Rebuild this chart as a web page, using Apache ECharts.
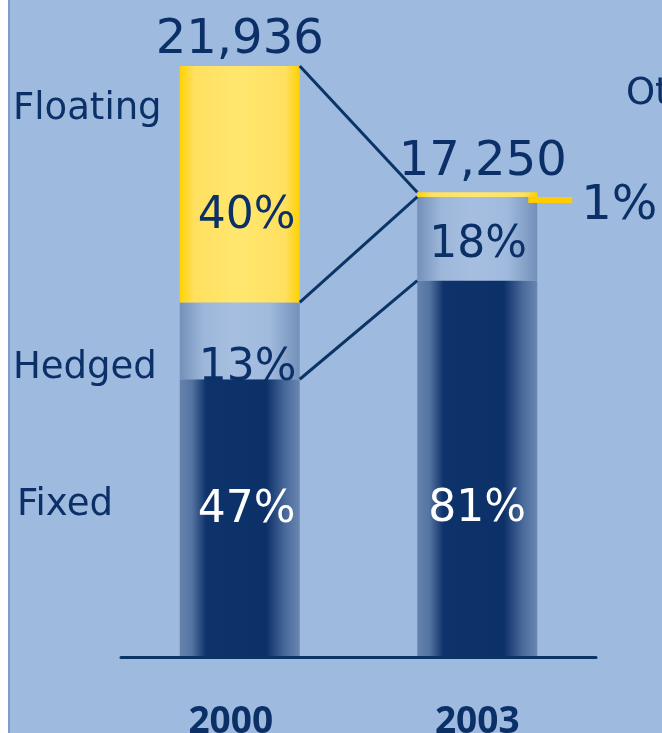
<!DOCTYPE html>
<html><head><meta charset="utf-8">
<script src="https://cdn.jsdelivr.net/npm/echarts@6/dist/echarts.min.js"></script>
<style>html,body{margin:0;padding:0;background:#fff}#c{width:662px;height:733px}</style>
</head><body><div id="c"></div>
<script>
// ---- data ----
const categories = ['2000', '2003'];
const totals = [21936, 17250];
const fixedPct = [47, 81];
const hedgedPct = [13, 18];
const floatingPct = [40, 1];
const segmentNames = ['Fixed', 'Hedged', 'Floating', 'Other'];

// ---- styles / layout ----
const NAVY = '#0b3068';
const FONT = "'DejaVu Sans', Verdana, sans-serif";
const AXIS_FONT = "'Open Sans', Lato, sans-serif";
const BAR_W = 120;
const fixedLabelOffsets = [[7, -7.5], [0, 41]];
const hedgedLabelOffsets = [[8, 28], [1, 7]];
const floatingLabelOffsets = [[7, 32], [142, 12]];
const floatingLabelSizes = [44, 48];
const totalLabelOffsets = [[0, -25.5], [5.5, -30]];

function grad(stops) {
  return new echarts.graphic.LinearGradient(0, 0, 1, 0, stops.map(c => ({offset: c[0], color: c[1]})));
}
const fixedFill = grad([[0, '#6683ae'], [0.1, '#5574a2'], [0.22, '#0e326a'], [0.72, '#0c3068'], [0.88, '#4a6a9b'], [1, '#6986b0']]);
const hedgedFill = grad([[0, '#7590b9'], [0.2, '#9db7da'], [0.45, '#a6bfe1'], [0.75, '#a0badd'], [1, '#7390ba']]);
const floatingFill = grad([[0, '#ffd200'], [0.12, '#ffe060'], [0.5, '#ffe76f'], [0.88, '#ffe060'], [1, '#ffd000']]);
const edge = 8 / 662;
const bgFill = {
  type: 'linear', x: 0, y: 0, x2: 1, y2: 0, global: false,
  colorStops: [
    {offset: 0, color: '#ffffff'}, {offset: edge, color: '#ffffff'},
    {offset: edge, color: '#7e9bc9'}, {offset: edge + 2 / 662, color: '#7e9bc9'},
    {offset: edge + 2 / 662, color: '#9fbadf'}, {offset: 1, color: '#9fbadf'}
  ]
};

function fmtNum(v) { return String(v).replace(/\B(?=(\d{3})+(?!\d))/g, ','); }

function segData(pcts, offsets, sizes) {
  return pcts.map((p, i) => {
    const lbl = {offset: offsets[i]};
    if (sizes) lbl.fontSize = sizes[i];
    return {value: totals[i] * p / 100, label: lbl};
  });
}

const chart = echarts.init(document.getElementById('c'), null, {renderer: 'canvas'});
const pctLabel = (arr, color) => ({
  show: true, position: 'inside', color: color, fontSize: 44, fontFamily: FONT,
  formatter: p => arr[p.dataIndex] + '%'
});

chart.setOption({
  animation: false,
  backgroundColor: bgFill,
  grid: {left: 121, right: 66, top: 10.4, bottom: 76, containLabel: false, outerBoundsMode: 'none'},
  xAxis: {
    type: 'category', data: categories,
    axisLine: {show: true, lineStyle: {color: '#0b3466', width: 3, cap: 'round'}},
    axisTick: {show: false},
    axisLabel: {
      fontSize: 37, fontWeight: 'bold', color: NAVY, fontFamily: AXIS_FONT, margin: 47,
      formatter: (v, i) => i === 0 ? '{a|' + v + '}' : '{b|' + v + '}',
      rich: {
        a: {fontSize: 37, fontWeight: 'bold', color: NAVY, fontFamily: AXIS_FONT, padding: [0, 18, 0, 0]},
        b: {fontSize: 37, fontWeight: 'bold', color: NAVY, fontFamily: AXIS_FONT}
      }
    },
    z: 5
  },
  yAxis: {type: 'value', min: 0, max: 24000, show: false, splitLine: {show: false}},
  series: [
    {name: segmentNames[0], type: 'bar', stack: 't', barWidth: BAR_W,
     itemStyle: {color: fixedFill}, data: segData(fixedPct, fixedLabelOffsets),
     label: pctLabel(fixedPct, '#ffffff')},
    {name: segmentNames[1], type: 'bar', stack: 't', barWidth: BAR_W,
     itemStyle: {color: hedgedFill}, data: segData(hedgedPct, hedgedLabelOffsets),
     label: pctLabel(hedgedPct, NAVY)},
    {name: segmentNames[2], type: 'bar', stack: 't', barWidth: BAR_W,
     itemStyle: {color: floatingFill}, data: segData(floatingPct, floatingLabelOffsets, floatingLabelSizes),
     label: pctLabel(floatingPct, NAVY)},
    {name: 'Total', type: 'scatter', symbolSize: 0, itemStyle: {opacity: 1},
     data: totals.map((t, i) => ({value: [i, t], label: {offset: totalLabelOffsets[i]}})),
     label: {show: true, position: 'inside', color: NAVY, opacity: 1, fontSize: 48, fontFamily: FONT,
             formatter: p => fmtNum(totals[p.dataIndex])}}
  ]
});

// ---- overlay: connectors, leader, side labels ----
const px = (ci, v) => chart.convertToPixel({xAxisIndex: 0, yAxisIndex: 0}, [ci, v]);
const half = BAR_W / 2;
const levels0 = [totals[0], totals[0] * (fixedPct[0] + hedgedPct[0]) / 100, totals[0] * fixedPct[0] / 100];
const levels1 = [totals[1], totals[1] * (fixedPct[1] + hedgedPct[1]) / 100, totals[1] * fixedPct[1] / 100];
const els = [];
levels0.forEach((v, k) => {
  const a = px(0, v), b = px(1, levels1[k]);
  els.push({type: 'line', z: 10,
    shape: {x1: a[0] + half, y1: a[1], x2: b[0] - half, y2: b[1]},
    style: {stroke: '#0b3466', lineWidth: 3}});
});
// yellow leader for the 1% segment
const segTop = px(1, totals[1]), segBot = px(1, levels1[1]);
const leadY = segBot[1] + 3;
els.push({type: 'line', z: 10,
  shape: {x1: segTop[0] + half - 9, y1: leadY, x2: segTop[0] + half + 35, y2: leadY},
  style: {stroke: '#ffcc00', lineWidth: 6}});

const sideLabels = [
  {name: segmentNames[2], x: 13, y: 109},
  {name: segmentNames[1], x: 13, y: 368},
  {name: segmentNames[0], x: 17, y: 505},
  {name: segmentNames[3], x: 626, y: 94}
];
sideLabels.forEach(s => els.push({type: 'text', x: s.x, y: s.y, z: 10,
  style: {text: s.name, fill: NAVY, fontSize: 37, fontFamily: FONT, align: 'left', verticalAlign: 'middle'}}));

chart.setOption({graphic: {elements: els}});
</script>
</body></html>
